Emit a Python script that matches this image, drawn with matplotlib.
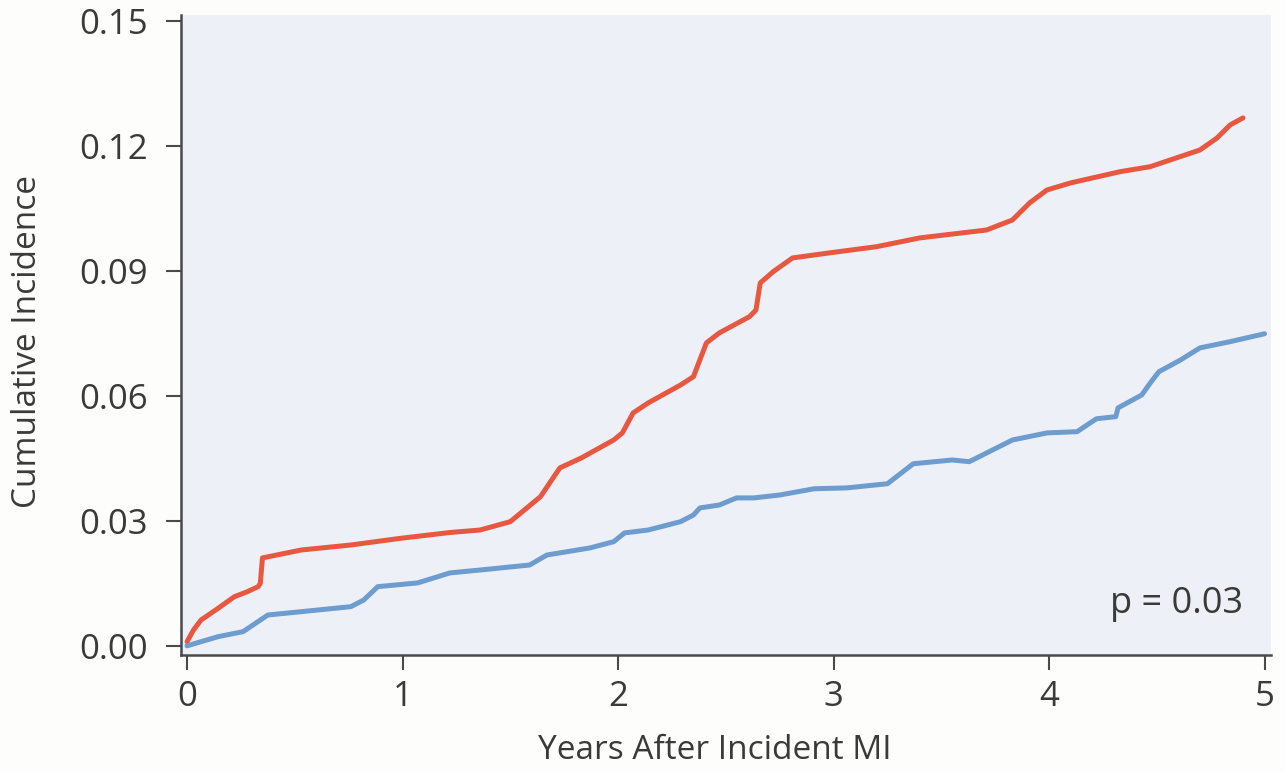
import matplotlib
matplotlib.use("Agg")
import matplotlib.pyplot as plt

plt.rcParams["font.family"] = ["Open Sans", "DejaVu Sans"]

# ── Data ─────────────────────────────────────────────────────────────────────
red_years = [0.0, 0.03, 0.065, 0.144, 0.22, 0.28, 0.33, 0.34, 0.35, 0.53, 0.76, 0.99,
             1.22, 1.36, 1.50, 1.64, 1.73, 1.83, 1.98, 2.02, 2.07, 2.14, 2.29, 2.35,
             2.41, 2.47, 2.61, 2.64, 2.66, 2.72, 2.81, 2.98, 3.20, 3.40, 3.71, 3.83,
             3.91, 3.99, 4.10, 4.33, 4.47, 4.70, 4.78, 4.84, 4.90]
red_inc = [0.0010, 0.0038, 0.0062, 0.0090, 0.0118, 0.0130, 0.0142, 0.0150, 0.0211,
           0.0230, 0.0242, 0.0258, 0.0272, 0.0278, 0.0298, 0.0358, 0.0427, 0.0451,
           0.0494, 0.0511, 0.0559, 0.0583, 0.0626, 0.0646, 0.0727, 0.0751, 0.0790,
           0.0806, 0.0871, 0.0898, 0.0931, 0.0943, 0.0958, 0.0979, 0.0998, 0.1022,
           0.1063, 0.1094, 0.1111, 0.1138, 0.1150, 0.1190, 0.1219, 0.1250, 0.1267]

blue_years = [0.0, 0.144, 0.26, 0.375, 0.53, 0.76, 0.82, 0.885, 1.07, 1.22, 1.36,
              1.59, 1.67, 1.87, 1.98, 2.03, 2.14, 2.29, 2.35, 2.38, 2.47, 2.55, 2.63,
              2.75, 2.91, 3.06, 3.25, 3.37, 3.55, 3.63, 3.83, 3.99, 4.13, 4.22, 4.31,
              4.32, 4.43, 4.47, 4.51, 4.61, 4.70, 4.84, 5.00]
blue_inc = [0.0000, 0.0022, 0.0034, 0.0074, 0.0082, 0.0094, 0.0110, 0.0142, 0.0151,
            0.0175, 0.0182, 0.0194, 0.0218, 0.0235, 0.0250, 0.0271, 0.0278, 0.0298,
            0.0314, 0.0331, 0.0338, 0.0355, 0.0355, 0.0362, 0.0377, 0.0379, 0.0389,
            0.0437, 0.0446, 0.0442, 0.0494, 0.0511, 0.0514, 0.0545, 0.0550, 0.0571,
            0.0602, 0.0631, 0.0658, 0.0686, 0.0715, 0.0730, 0.0749]

x_ticks = [0, 1, 2, 3, 4, 5]
y_ticks = [0.00, 0.03, 0.06, 0.09, 0.12, 0.15]
y_tick_labels = ["0.00", "0.03", "0.06", "0.09", "0.12", "0.15"]

RED = "#e8573f"
BLUE = "#6d9ccf"
DARK = "#3a3a3a"

# ── Figure ────────────────────────────────────────────────────────────────────
fig = plt.figure(figsize=(12.85, 7.72), dpi=100, facecolor="#fdfdfb")
ax = fig.add_axes([181 / 1285, 117 / 772, 1090 / 1285, 640 / 772])
ax.set_facecolor("#eef0f7")

ax.plot(red_years, red_inc, color=RED, lw=3.6, solid_capstyle="round",
        solid_joinstyle="round")
ax.plot(blue_years, blue_inc, color=BLUE, lw=3.6, solid_capstyle="round",
        solid_joinstyle="round")

ax.set_xlim(-0.028, 5.03)
ax.set_ylim(-0.0022, 0.1514)
ax.set_xticks(x_ticks)
ax.set_yticks(y_ticks)
ax.set_yticklabels(y_tick_labels)

for side in ("top", "right"):
    ax.spines[side].set_visible(False)
for side in ("left", "bottom"):
    ax.spines[side].set_color("#4a4a4a")
    ax.spines[side].set_linewidth(1.8)

ax.tick_params(axis="both", direction="out", length=11, width=1.5,
               color="#4a4a4a", labelsize=25, labelcolor=DARK)
ax.tick_params(axis="y", pad=13)
ax.tick_params(axis="x", pad=7)

ax.set_xlabel("Years After Incident MI", fontsize=24, color=DARK)
ax.set_ylabel("Cumulative Incidence", fontsize=24, color=DARK)
ax.xaxis.set_label_coords(0.49, -0.123)
ax.yaxis.set_label_coords(-0.126, 0.49)

ax.text(0.974, 0.066, "p = 0.03", transform=ax.transAxes, ha="right",
        va="baseline", fontsize=26, color=DARK)

fig.savefig("out.png", dpi=100, facecolor=fig.get_facecolor())
